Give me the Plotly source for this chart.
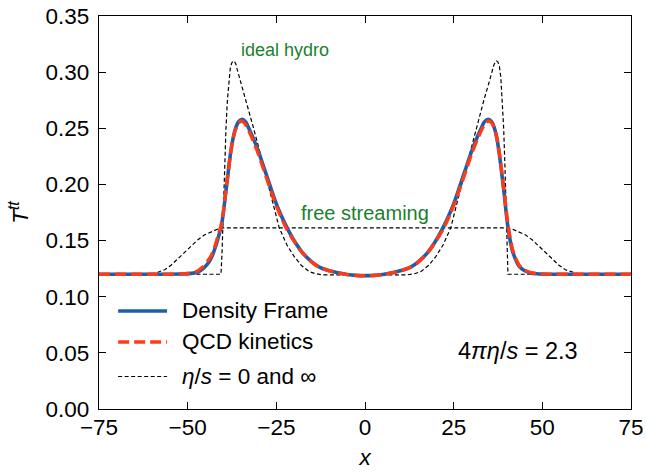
import plotly.graph_objects as go

# ---------------- data ----------------
x_ticks = [-75, -50, -25, 0, 25, 50, 75]
x_tick_labels = ["\u221275", "\u221250", "\u221225", "0", "25", "50", "75"]
y_ticks = [0.00, 0.05, 0.10, 0.15, 0.20, 0.25, 0.30, 0.35]
y_tick_labels = ["0.00", "0.05", "0.10", "0.15", "0.20", "0.25", "0.30", "0.35"]

# Density Frame (blue solid)
df_x = [-75, -60, -52, -49, -47, -45.5, -44, -43, -42, -41, -40.5, -39.8, -39.3, -38.6,
        -37.9, -37.2, -36.5, -35.6, -34.6, -33.6, -32.7, -31.5, -30, -28.5, -27, -25.5,
        -24, -22, -20, -17.7, -15, -13, -10.5, -8, -5, -2.5, 0,
        2.5, 5, 8, 10.5, 13, 15, 17.7, 20, 22, 24, 25.5, 27, 28.5, 30, 31.5, 32.7, 33.6,
        34.7, 35.7, 36.6, 37.3, 38.0, 38.7, 39.3, 39.9, 40.5, 41.5, 42.5, 43.5, 44.8,
        46.5, 48.5, 52, 60, 75]
df_y = [0.120, 0.120, 0.1202, 0.1208, 0.1222, 0.1255, 0.131, 0.137, 0.146, 0.157, 0.163,
        0.178, 0.192, 0.210, 0.228, 0.241, 0.250, 0.256, 0.258, 0.2555, 0.2495, 0.241,
        0.229, 0.215, 0.201, 0.187, 0.175, 0.1615, 0.150, 0.1395, 0.131, 0.1265, 0.1235,
        0.1215, 0.1198, 0.1190, 0.1188,
        0.1190, 0.1198, 0.1215, 0.1235, 0.1265, 0.131, 0.1395, 0.150, 0.1615, 0.175,
        0.187, 0.201, 0.215, 0.229, 0.241, 0.2495, 0.2555,
        0.258, 0.256, 0.249, 0.239, 0.224, 0.206, 0.190, 0.172, 0.158, 0.1416, 0.133,
        0.127, 0.1235, 0.1212, 0.1204, 0.120, 0.120, 0.120]

# QCD kinetics (red dashed)
qcd_x = [-75, -60, -52, -49.5, -47.5, -46, -44.5, -43.3, -42.2, -41.2, -40.6, -39.9,
         -39.4, -38.7, -38.0, -37.3, -36.6, -35.7, -34.8, -33.8, -32.8, -31.6, -30.1,
         -28.6, -27.1, -25.6, -24.1, -22.1, -20, -17.7, -15, -13, -10.5, -8, -5, -2.5, 0,
         2.5, 5, 8, 10.5, 13, 15, 17.7, 20, 22.1, 24.1, 25.6, 27.1, 28.6, 30.1, 31.6,
         32.8, 33.8, 34.8, 35.8, 36.7, 37.4, 38.1, 38.8, 39.4, 40.0, 40.6, 41.6, 42.6,
         43.6, 45.0, 46.8, 48.8, 52.5, 60, 75]
qcd_y = [0.120, 0.120, 0.1202, 0.1209, 0.1224, 0.1257, 0.1312, 0.137, 0.146, 0.157,
         0.163, 0.177, 0.190, 0.208, 0.226, 0.239, 0.248, 0.2545, 0.2565, 0.254, 0.248,
         0.2395, 0.2275, 0.2135, 0.1995, 0.186, 0.174, 0.1605, 0.1495, 0.1392, 0.1308,
         0.1264, 0.1234, 0.1214, 0.1197, 0.1189, 0.1187,
         0.1189, 0.1197, 0.1214, 0.1234, 0.1264, 0.1308, 0.1392, 0.1495, 0.1605, 0.174,
         0.186, 0.1995, 0.2135, 0.2275, 0.2395, 0.248, 0.254,
         0.2565, 0.2545, 0.248, 0.238, 0.223, 0.205, 0.189, 0.172, 0.158, 0.142, 0.1335,
         0.1275, 0.1238, 0.1214, 0.1205, 0.120, 0.120, 0.120]

# ideal hydro (eta/s = 0), black dashed
ih_x = [-75, -40.6, -40.3, -40.0, -39.6, -39.2, -38.8, -38.4, -38.0, -37.6, -37.2, -36.8,
        -36.4, -36.0, -35.0, -33.6, -31.5, -29.9, -27.1, -24.2, -22, -20, -18, -15.8, -14,
        -12, 0, 12, 14, 15.8, 18, 20, 22, 24.2, 27.1, 29.9, 31.5, 33.6, 35.0, 35.9, 36.3,
        36.7, 37.1, 37.5, 37.9, 38.3, 38.7, 39.1, 39.5, 39.9, 40.3, 75]
ih_y = [0.120, 0.120, 0.140, 0.175, 0.215, 0.250, 0.275, 0.293, 0.303, 0.308, 0.310,
        0.3095, 0.307, 0.302, 0.291, 0.276, 0.251, 0.232, 0.198, 0.1615, 0.146, 0.136,
        0.128, 0.1225, 0.1205, 0.1195, 0.1194, 0.1195, 0.1205, 0.1225, 0.128, 0.136,
        0.146, 0.1615, 0.198, 0.232, 0.251, 0.276, 0.291, 0.302, 0.306, 0.309, 0.310,
        0.309, 0.305, 0.295, 0.277, 0.250, 0.212, 0.170, 0.120, 0.120]

# free streaming (eta/s = infinity), black dashed
fs_x = [-75, -63, -60, -58.4, -56.5, -54.7, -52.8, -51, -49, -47.2, -45.3, -43.4, -41.5,
        -40, 0, 40, 41.5, 43.4, 45.3, 47.2, 49, 51, 52.8, 54.7, 56.5, 58.4, 60, 63, 75]
fs_y = [0.120, 0.120, 0.1205, 0.1218, 0.124, 0.128, 0.1335, 0.139, 0.145, 0.1505, 0.155,
        0.158, 0.1603, 0.1613, 0.1615, 0.1613, 0.1603, 0.158, 0.155, 0.1505, 0.145,
        0.139, 0.1335, 0.128, 0.124, 0.1218, 0.1205, 0.120, 0.120]

legend_labels = ["Density Frame", "QCD kinetics", "<i>\u03b7</i>/<i>s</i> = 0 and \u221e"]

BLUE = "#1c5fa8"
RED = "#ff3a17"
GREEN = "#1a7f2c"
FONT = "Liberation Sans"
FS = 22.5

fig = go.Figure()
fig.add_trace(go.Scatter(x=ih_x, y=ih_y, mode="lines", showlegend=False,
                         line=dict(color="black", width=1.2, dash="4px,2.5px")))
fig.add_trace(go.Scatter(x=fs_x, y=fs_y, mode="lines", showlegend=False,
                         line=dict(color="black", width=1.2, dash="4px,2.5px")))
fig.add_trace(go.Scatter(x=df_x, y=df_y, mode="lines", showlegend=False,
                         line=dict(color=BLUE, width=3.6, shape="spline", smoothing=0.6)))
fig.add_trace(go.Scatter(x=qcd_x, y=qcd_y, mode="lines", showlegend=False,
                         line=dict(color=RED, width=3.4, dash="11px,5px",
                                   shape="spline", smoothing=0.6)))

# manual legend (paper coordinates)
leg_rows = [0.2494, 0.1705, 0.0827]
leg_styles = [dict(color=BLUE, width=3.6), dict(color=RED, width=3.4, dash="11px,5px"),
              dict(color="black", width=1.2, dash="4px,2.5px")]
for yy, st, lab in zip(leg_rows, leg_styles, legend_labels):
    fig.add_shape(type="line", xref="paper", yref="paper", x0=0.036, x1=0.128,
                  y0=yy, y1=yy, line=st)
    fig.add_annotation(xref="paper", yref="paper", x=0.152, y=yy, text=lab,
                       showarrow=False, xanchor="left", yanchor="middle",
                       font=dict(size=FS, color="black", family=FONT))

fig.add_annotation(xref="paper", yref="paper", x=0.788, y=0.1476,
                   text="4<i>\u03c0\u03b7</i>/<i>s</i> = 2.3", showarrow=False,
                   xanchor="center", yanchor="middle",
                   font=dict(size=23.5, color="black", family=FONT))
fig.add_annotation(x=-22.6, y=0.3197, text="ideal hydro", showarrow=False,
                   xanchor="center", yanchor="middle",
                   font=dict(size=18, color=GREEN, family=FONT))
fig.add_annotation(x=0, y=0.1746, text="free streaming", showarrow=False,
                   xanchor="center", yanchor="middle",
                   font=dict(size=20, color=GREEN, family=FONT))

axis_common = dict(showgrid=False, zeroline=False, showline=True, linecolor="black",
                   linewidth=1.2, mirror="ticks", ticks="inside", ticklen=7,
                   tickwidth=1.1, tickcolor="black", automargin=False,
                   tickfont=dict(size=FS, color="black", family=FONT))
fig.update_xaxes(range=[-75, 75], tickvals=x_ticks, ticktext=x_tick_labels,
                 ticklabelstandoff=-2,
                 title=dict(text="<i>x</i>", font=dict(size=FS, family=FONT), standoff=10),
                 **axis_common)
fig.update_yaxes(range=[0, 0.35], tickvals=y_ticks, ticktext=y_tick_labels,
                 ticklabelstandoff=4,
                 title=dict(text="<i>T</i><sup><i>tt</i></sup>", font=dict(size=FS, family=FONT),
                            standoff=10),
                 **axis_common)
fig.update_layout(width=646, height=472, margin=dict(l=99, r=15, t=16, b=63),
                  plot_bgcolor="white", paper_bgcolor="white",
                  font=dict(family=FONT, color="black"))
fig.write_html("out.html", config={"displayModeBar": False},
               post_script="document.body.style.margin='0px';"
                           "document.documentElement.style.overflow='hidden';")
